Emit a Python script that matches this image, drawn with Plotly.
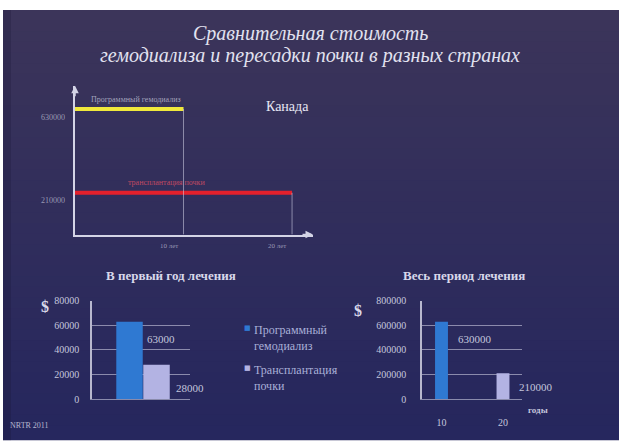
import plotly.graph_objects as go

W, H = 619, 442

# ---- data ----
# Canada: cost of treatment per patient over the treatment period (years)
period_years = [10, 20]
total_cost = [630000, 210000]          # dialysis / kidney transplant
first_year_cost = [63000, 28000]       # dialysis / kidney transplant
methods = ["Программный гемодиализ", "Трансплантация почки"]
method_lines = [["Программный", "гемодиализ"], ["Трансплантация", "почки"]]
method_short = ["Программный гемодиализ", "трансплантация почки"]
period_labels = ["10", "20"]
top_xticks = ["10 лет", "20 лет"]
first_year_ticks = [0, 20000, 40000, 60000, 80000]
period_ticks = [0, 200000, 400000, 600000, 800000]

BLUE = "#2f79d2"
LAVENDER = "#b3b3e3"
TEXT = "#c4c6dc"
SERIF = "Liberation Serif"


def px(x):
    return x / W


def py(y):
    return 1 - y / H


fig = go.Figure()

# ---- top line chart: cost level held over the period ----
fig.add_trace(go.Scatter(x=[0, period_years[0]], y=[total_cost[0]] * 2, mode="lines",
                         line=dict(color="#f0e83c", width=4), showlegend=False,
                         xaxis="x", yaxis="y", hoverinfo="skip"))
fig.add_trace(go.Scatter(x=[0, period_years[1]], y=[total_cost[1]] * 2, mode="lines",
                         line=dict(color="#e4202c", width=4), showlegend=False,
                         xaxis="x", yaxis="y", hoverinfo="skip"))
for yr, c in zip(period_years, total_cost):
    fig.add_trace(go.Scatter(x=[yr, yr], y=[c, 0], mode="lines",
                             line=dict(color="rgba(215,215,235,0.55)", width=1),
                             showlegend=False, xaxis="x", yaxis="y", hoverinfo="skip"))

# ---- first-year bar chart ----
for m, v, col in zip(methods, first_year_cost, [BLUE, LAVENDER]):
    fig.add_trace(go.Bar(x=[m], y=[v], marker=dict(color=col, line=dict(width=0)),
                         width=0.98, name=m, showlegend=False,
                         xaxis="x2", yaxis="y2"))

# ---- whole-period bar chart ----
for p, v, col in zip(period_labels, total_cost, [BLUE, LAVENDER]):
    fig.add_trace(go.Bar(x=[p], y=[v], marker=dict(color=col, line=dict(width=0)),
                         width=0.21, showlegend=False,
                         xaxis="x3", yaxis="y3"))

# ---- slide background ----
shapes = [dict(type="rect", xref="paper", yref="paper", x0=0, x1=1, y0=0, y1=1,
               fillcolor="white", line=dict(width=0), layer="below")]
top_rgb = (60, 53, 90)
bot_rgb = (38, 39, 94)
n = 40
y_top, y_bot = 4, H
for k in range(n):
    t = k / (n - 1)
    r = int(top_rgb[0] + (bot_rgb[0] - top_rgb[0]) * t)
    g = int(top_rgb[1] + (bot_rgb[1] - top_rgb[1]) * t)
    b = int(top_rgb[2] + (bot_rgb[2] - top_rgb[2]) * t)
    a = y_top + (y_bot - y_top) * k / n
    bb = y_top + (y_bot - y_top) * (k + 1) / n
    shapes.append(dict(type="rect", xref="paper", yref="paper", x0=px(3), x1=1.01,
                       y0=py(bb + 3) if k < n - 1 else -0.01, y1=py(a),
                       fillcolor=f"rgb({r},{g},{b})",
                       line=dict(width=0), layer="below"))
# darker strip along the left edge
shapes.append(dict(type="rect", xref="paper", yref="paper", x0=px(3), x1=px(11),
                   y0=-0.01, y1=py(4), fillcolor="rgba(25,20,50,0.25)",
                   line=dict(width=0), layer="below"))

ann = []


def label(text, x, y, size, color, xref="paper", yref="paper", **kw):
    d = dict(text=text, x=x, y=y, xref=xref, yref=yref, showarrow=False,
             xanchor="center", yanchor="middle",
             font=dict(family=SERIF, size=size, color=color))
    d.update(kw)
    ann.append(d)


# slide title
label("<i>Сравнительная стоимость</i>", px(310), py(28), 20, "#e2e2f0")
label("<i>гемодиализа и пересадки почки в разных странах</i>", px(310), py(51), 20, "#e2e2f0")

# top chart texts
label("Канада", px(287), py(103), 14, "#e8e8f4")
label(method_short[0], 1.3, total_cost[0], 8, "rgba(200,200,220,0.75)", xref="x", yref="y",
      xanchor="left", yanchor="bottom", yshift=3)
label(method_short[1], 4.7, total_cost[1], 8, "rgba(225,80,100,0.8)", xref="x", yref="y",
      xanchor="left", yanchor="bottom", yshift=4)
for c in total_cost:
    label(f"{c}", px(67), c, 8, "rgba(200,200,220,0.7)", yref="y",
          xanchor="right", yshift=-8)
for yr, lab in zip(period_years, top_xticks):
    label(lab, yr, 0, 7, "rgba(200,200,220,0.7)", xref="x", yref="y",
          xanchor="right", yanchor="top", xshift=-4, yshift=-5)
# axis arrowheads
ann.append(dict(x=0, y=747000, xref="x", yref="y", ax=0, ay=12, showarrow=True,
                arrowhead=2, arrowsize=1, arrowwidth=1.5, arrowcolor="#d4d4e6", text=""))
ann.append(dict(x=21.93, y=0, xref="x", yref="y", ax=-12, ay=0, showarrow=True,
                arrowhead=2, arrowsize=1, arrowwidth=1.5, arrowcolor="#d4d4e6", text=""))

# bar chart titles and currency marks
label("<b>В первый год лечения</b>", px(171), py(277), 13, "#d8d8ea")
label("<b>Весь период лечения</b>", px(464), py(277), 13, "#d8d8ea")
label("<b>$</b>", px(45), py(309), 16, "#d8d8ea")
label("<b>$</b>", px(358), py(313), 16, "#d8d8ea")

# value labels
label(f"{first_year_cost[0]}", px(161), first_year_cost[0], 11, TEXT, yref="y2", yshift=-17)
label(f"{first_year_cost[1]}", px(190), first_year_cost[1], 11, TEXT, yref="y2", yshift=-23)
label(f"{total_cost[0]}", px(475), total_cost[0], 11, TEXT, yref="y3", yshift=-17)
label(f"{total_cost[1]}", px(536), total_cost[1], 11, TEXT, yref="y3", yshift=-14)
label("<b>годы</b>", px(538), py(415), 9, TEXT)

# legend for the first-year chart
for (l1, l2), col, y0 in zip(method_lines, [BLUE, LAVENDER], [331, 372]):
    ann.append(dict(text="■", x=px(247), y=py(y0), xref="paper", yref="paper",
                    xanchor="center", yanchor="middle", showarrow=False,
                    font=dict(family="DejaVu Sans", size=7, color=col)))
    label(f"{l1}<br>{l2}", px(252), py(y0 - 7), 12, "#a9b0d8",
          xanchor="left", yanchor="top", align="left")

# footer
label("NRTR 2011", px(8), py(431), 8, "#b8b8d0", xanchor="left")

grid = "rgba(205,205,225,0.6)"
axis_line = "rgba(220,220,235,0.8)"
tick_font = dict(family=SERIF, size=10, color=TEXT)

fig.update_layout(
    width=W, height=H, margin=dict(l=0, r=0, t=0, b=0),
    paper_bgcolor="white", plot_bgcolor="rgba(0,0,0,0)",
    barmode="overlay", shapes=shapes, annotations=ann, showlegend=False,
    font=dict(family=SERIF, color=TEXT),
    xaxis=dict(domain=[px(75), px(313)], range=[0, 21.93], showgrid=False,
               zeroline=False, showticklabels=False, showline=True,
               linecolor="#d4d4e6", linewidth=1.5, anchor="y", fixedrange=True),
    yaxis=dict(domain=[py(235), py(82)], range=[0, 747000], showgrid=False,
               zeroline=False, showticklabels=False, showline=True,
               linecolor="#d4d4e6", linewidth=1.5, anchor="x", fixedrange=True),
    xaxis2=dict(domain=[px(92), px(190)], type="category", range=[-1.389, 2.24],
                showticklabels=False, showgrid=False, showline=True,
                linecolor=grid, linewidth=1, anchor="y2"),
    yaxis2=dict(domain=[py(404), py(303)], range=[0, 80000], tickvals=first_year_ticks,
                ticktext=[str(v) for v in first_year_ticks],
                showgrid=True, gridcolor=grid, gridwidth=1, zeroline=False,
                showline=True, linecolor=axis_line, linewidth=1.5, anchor="x2",
                ticks="", ticklabelstandoff=9, tickfont=tick_font),
    xaxis3=dict(domain=[px(422), px(522)], type="category", range=[-0.317, 1.309],
                showgrid=False, showline=True, linecolor=grid, linewidth=1,
                ticks="", ticklabelstandoff=14, anchor="y3", tickfont=tick_font),
    yaxis3=dict(domain=[py(404), py(303)], range=[0, 800000], tickvals=period_ticks,
                ticktext=[str(v) for v in period_ticks],
                showgrid=True, gridcolor=grid, gridwidth=1, zeroline=False,
                showline=True, linecolor=axis_line, linewidth=1.5, anchor="x3",
                ticks="", ticklabelstandoff=12, tickfont=tick_font),
)

fig.write_html("out.html")
